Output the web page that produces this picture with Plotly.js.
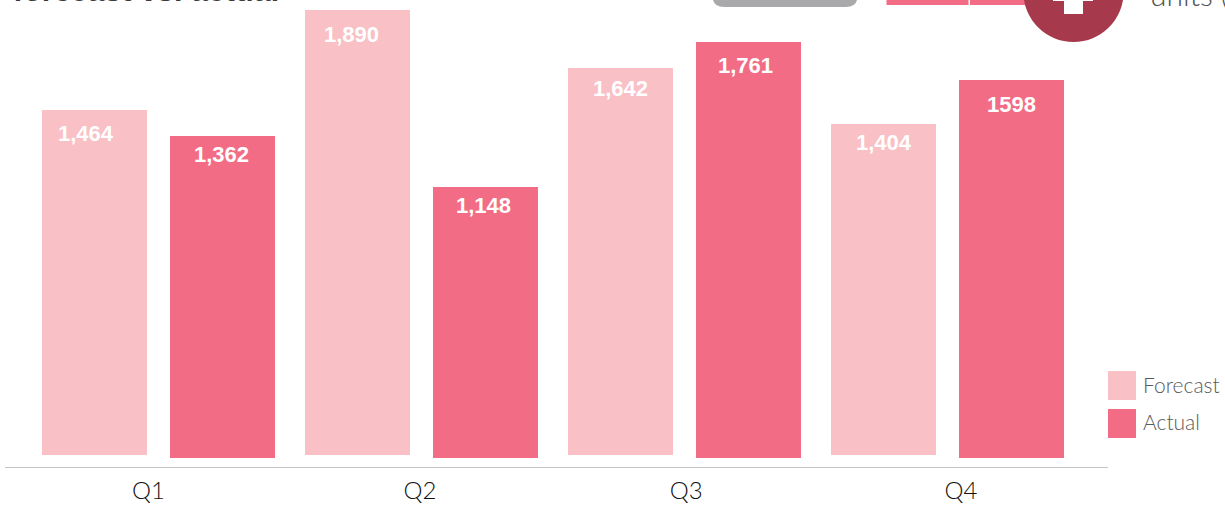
<!DOCTYPE html>
<html>
<head>
<meta charset="utf-8">
<script src="https://cdn.plot.ly/plotly-3.0.1.min.js"></script>
<style>html,body{margin:0;padding:0;background:#fff;overflow:hidden}#chart{width:1225px;height:506px}</style>
</head>
<body>
<div id="chart"></div>
<script>
const quarters = ['Q1', 'Q2', 'Q3', 'Q4'];
const forecast = [1464, 1890, 1642, 1404];
const actual = [1362, 1148, 1761, 1598];
const forecastLabels = ['1,464', '1,890', '1,642', '1,404'];
const actualLabels = ['1,362', '1,148', '1,761', '1598'];

const tickPositions = [-0.036, 0.996, 2.008, 3.053];
const forecastShiftX = [-8.5, -6, 0, 0];
const forecastShiftY = [-23.5, -25, -21, -18];
const actualShiftX = [-1, -2, -3, 0];
const actualShiftY = [-18, -19, -24, -24];

const FORECAST = '#f9c0c5';
const ACTUAL = '#f36c85';
const xIdx = quarters.map((_, i) => i);

const barWidth = 105 / 263;
const traces = [
  {type: 'bar', name: 'Forecast', x: xIdx, y: forecast, xaxis: 'x', yaxis: 'y',
   width: barWidth, offset: -116 / 263, marker: {color: FORECAST}, hoverinfo: 'name+y'},
  {type: 'bar', name: 'Actual', x: xIdx, y: actual, xaxis: 'x', yaxis: 'y2',
   width: barWidth, offset: 12 / 263, marker: {color: ACTUAL}, hoverinfo: 'name+y'}
];

const labelFont = {family: 'Liberation Sans, Arial, sans-serif', size: 22, color: '#ffffff', weight: 700};
const annotations = [];
quarters.forEach((q, i) => {
  annotations.push({xref: 'x', yref: 'y', x: i - 116 / 263 + barWidth / 2, y: forecast[i], text: forecastLabels[i],
    showarrow: false, xshift: forecastShiftX[i], yshift: forecastShiftY[i], font: labelFont, xanchor: 'center', yanchor: 'middle'});
  annotations.push({xref: 'x', yref: 'y2', x: i + 12 / 263 + barWidth / 2, y: actual[i], text: actualLabels[i],
    showarrow: false, xshift: actualShiftX[i], yshift: actualShiftY[i], font: labelFont, xanchor: 'center', yanchor: 'middle'});
});
const X = v => (v - 5) / 1103;
const Y = v => (467 - v) / 467;
const lightFont = {family: 'Lato, sans-serif', size: 21, color: '#5a5a5a', weight: 300};
annotations.push(
  {xref: 'paper', yref: 'paper', x: X(1141), y: Y(384), text: 'Forecast', showarrow: false, xanchor: 'left', yanchor: 'middle', font: lightFont},
  {xref: 'paper', yref: 'paper', x: X(1141), y: Y(422), text: 'Actual', showarrow: false, xanchor: 'left', yanchor: 'middle', font: lightFont},
  {xref: 'paper', yref: 'paper', x: X(10.5), y: Y(-10), text: 'forecast vs. actual', showarrow: false, xanchor: 'left', yanchor: 'middle',
   font: {family: 'Liberation Sans, Arial, sans-serif', size: 30.5, color: '#3a3a3a', weight: 700}},
  {xref: 'paper', yref: 'paper', x: X(1148), y: Y(-6), text: 'units (', showarrow: false, xanchor: 'left', yanchor: 'middle',
   font: {family: 'Lato, sans-serif', size: 30, color: '#4f4f4f', weight: 300}}
);

const rect = (x0, y0, x1, y1, color) => ({type: 'rect', xref: 'paper', yref: 'paper', x0: X(x0), x1: X(x1), y0: Y(y0), y1: Y(y1), fillcolor: color, line: {width: 0}, layer: 'above'});
const buttonPath = `M ${X(712.5)} ${Y(-10)} L ${X(712.5)} ${Y(-4)} Q ${X(712.5)} ${Y(7)} ${X(724)} ${Y(7)} L ${X(846)} ${Y(7)} Q ${X(857.5)} ${Y(7)} ${X(857.5)} ${Y(-4)} L ${X(857.5)} ${Y(-10)} Z`;
const shapes = [
  rect(1108, 371, 1136, 400, FORECAST),
  rect(1108, 409, 1136, 438, ACTUAL),
  {type: 'path', xref: 'paper', yref: 'paper', path: buttonPath, fillcolor: '#a9a9ac', line: {width: 0}, layer: 'above'},
  rect(886.5, -10, 968.5, 5, ACTUAL),
  rect(970, -10, 1040, 5, ACTUAL),
  {type: 'circle', xref: 'paper', yref: 'paper', x0: X(1023.3), x1: X(1123.7), y0: Y(42), y1: Y(-58.4), fillcolor: '#a63a4c', line: {width: 0}, layer: 'above'},
  rect(1064, -10, 1083, 14, '#ffffff'),
  rect(1053, -10, 1093, 1, '#ffffff')
];

const layout = {
  width: 1225, height: 506,
  margin: {l: 5, r: 117, t: 0, b: 39, pad: 0},
  paper_bgcolor: '#ffffff', plot_bgcolor: '#ffffff',
  showlegend: false, bargap: 0,
  xaxis: {
    range: [-153 / 263, 950 / 263], showgrid: false, zeroline: false, showline: true, linecolor: '#c4c4c4', linewidth: 1,
    tickmode: 'array', tickvals: tickPositions, ticktext: quarters, ticks: 'outside', ticklen: 2, tickcolor: 'rgba(0,0,0,0)',
    tickfont: {family: 'Lato, sans-serif', size: 24, color: '#111111', weight: 300}
  },
  yaxis: {range: [-50.9, 1930.4], visible: false, fixedrange: true},
  yaxis2: {range: [-38.1, 1938.5], visible: false, overlaying: 'y', fixedrange: true},
  annotations, shapes
};
Plotly.newPlot('chart', traces, layout, {displayModeBar: false, staticPlot: true});
</script>
</body>
</html>
